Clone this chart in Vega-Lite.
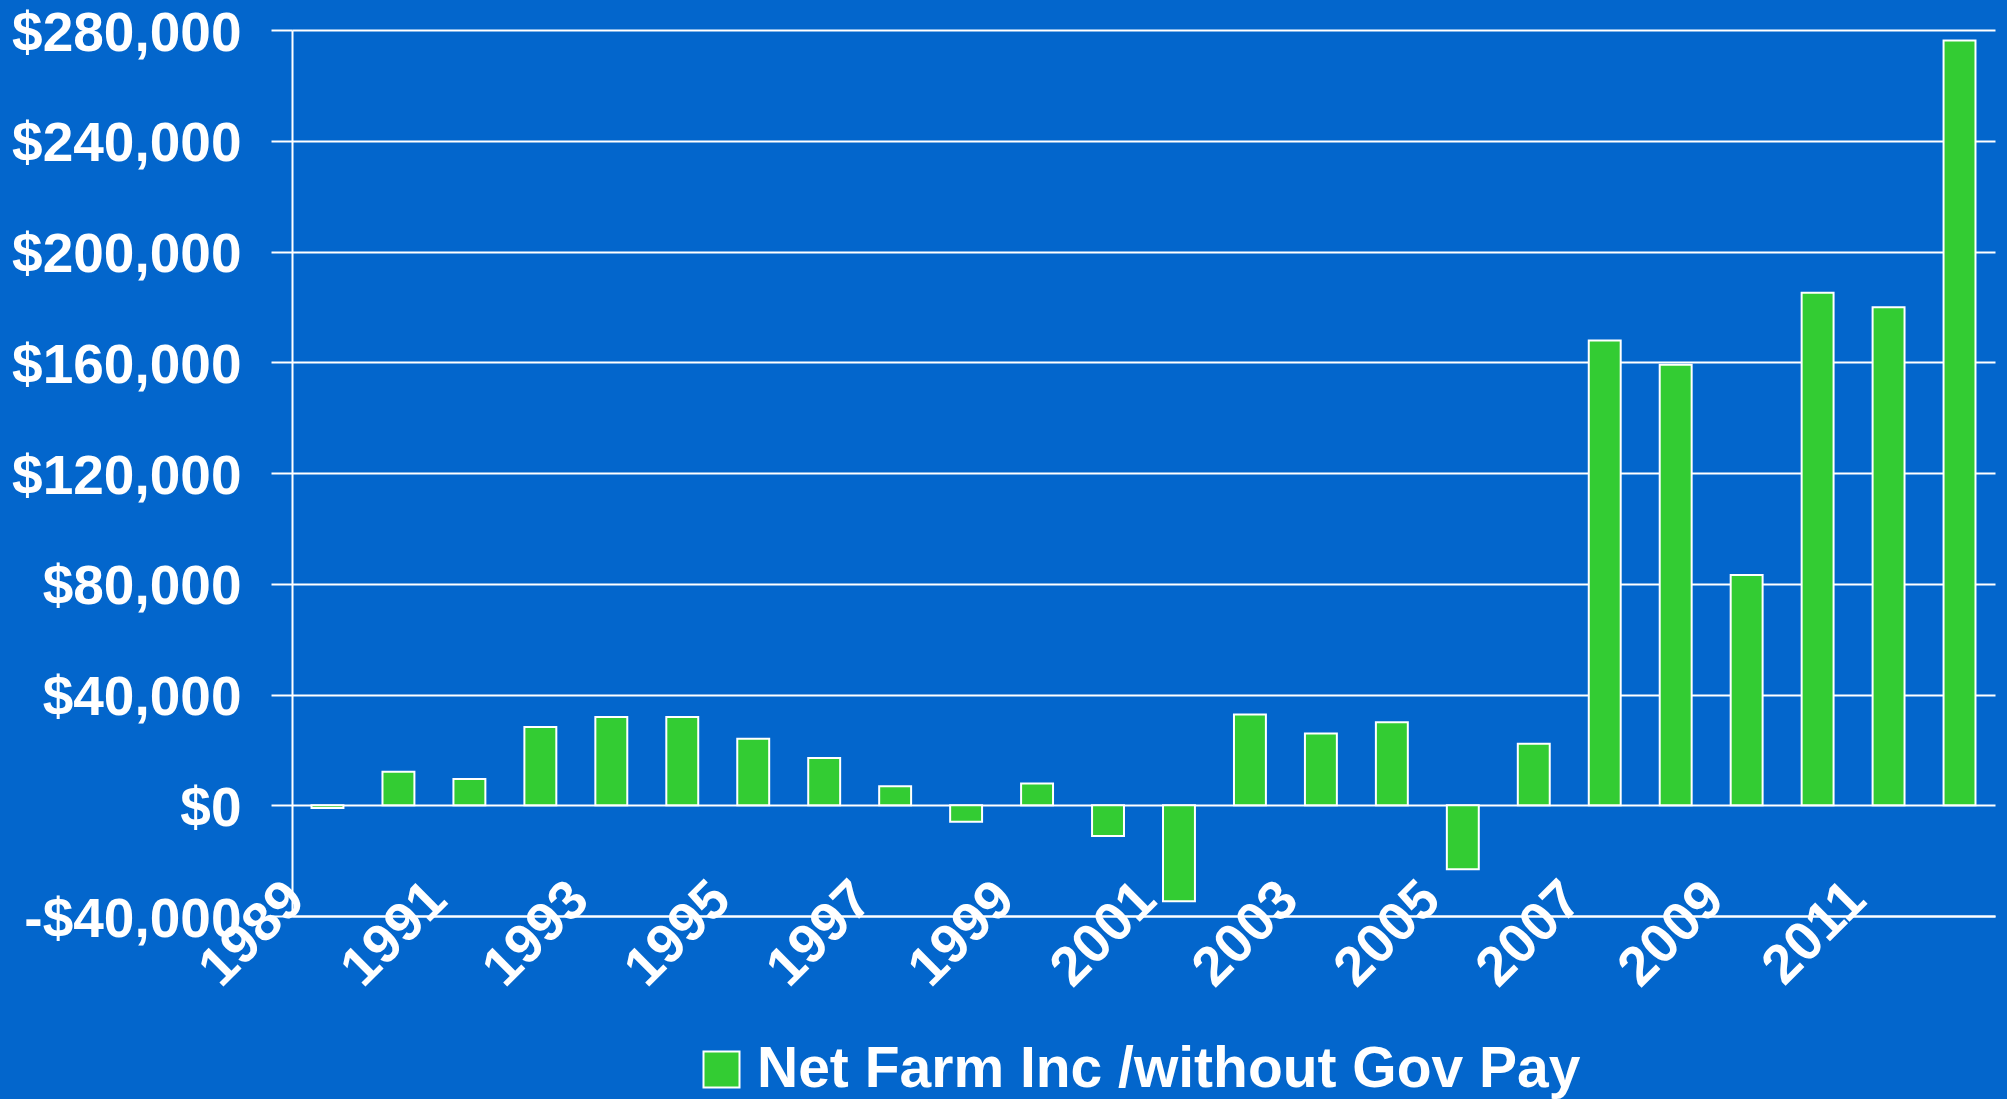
{
  "$schema": "https://vega.github.io/schema/vega-lite/v6.json",
  "autosize": "none",
  "width": 1703,
  "height": 886,
  "padding": {"left": 292, "top": 30, "right": 12, "bottom": 183},
  "background": "#0366cc",
  "config": {
    "view": {"stroke": null},
    "font": "Liberation Sans",
    "axis": {"labelFont": "Liberation Sans", "labelFontWeight": "bold", "labelColor": "white"}
  },
  "data": {
    "values": [
      {"year": "1989", "income": -1000},
      {"year": "1990", "income": 12100},
      {"year": "1991", "income": 9500},
      {"year": "1992", "income": 28300},
      {"year": "1993", "income": 31900},
      {"year": "1994", "income": 31900},
      {"year": "1995", "income": 24000},
      {"year": "1996", "income": 17100},
      {"year": "1997", "income": 6900},
      {"year": "1998", "income": -6000},
      {"year": "1999", "income": 7900},
      {"year": "2000", "income": -11100},
      {"year": "2001", "income": -34700},
      {"year": "2002", "income": 32800},
      {"year": "2003", "income": 25900},
      {"year": "2004", "income": 30000},
      {"year": "2005", "income": -23100},
      {"year": "2006", "income": 22200},
      {"year": "2007", "income": 167900},
      {"year": "2008", "income": 159100},
      {"year": "2009", "income": 83200},
      {"year": "2010", "income": 185100},
      {"year": "2011", "income": 179900},
      {"year": "2012", "income": 276200}
    ]
  },
  "mark": {"type": "bar", "stroke": "white", "strokeWidth": 2},
  "encoding": {
    "x": {
      "field": "year",
      "type": "ordinal",
      "scale": {"paddingInner": 0.55, "paddingOuter": 0.275},
      "axis": {
        "title": null,
        "values": ["1989", "1991", "1993", "1995", "1997", "1999", "2001", "2003", "2005", "2007", "2009", "2011"],
        "labelAngle": -45,
        "labelAlign": "right",
        "labelBaseline": "middle",
        "labelFontSize": 55,
        "labelOffset": -32,
        "labelPadding": -26,
        "labelLimit": 1000,
        "ticks": false,
        "tickSize": 0,
        "domain": true,
        "domainColor": "white",
        "domainWidth": 2,
        "grid": false,
        "labelOverlap": false,
        "labelBound": false,
        "labelFlush": false
      }
    },
    "y": {
      "field": "income",
      "type": "quantitative",
      "scale": {"domain": [-40000, 280000], "nice": false, "zero": false},
      "axis": {
        "title": null,
        "values": [-40000, 0, 40000, 80000, 120000, 160000, 200000, 240000, 280000],
        "labelExpr": "datum.value < 0 ? '-$' + format(-datum.value, ',') : '$' + format(datum.value, ',')",
        "labelFontSize": 55,
        "labelPadding": 30,
        "labelOffset": 3,
        "labelLimit": 1000,
        "tickSize": 21,
        "tickColor": "white",
        "tickWidth": 2,
        "grid": true,
        "gridColor": "white",
        "gridWidth": 2,
        "gridOpacity": 1,
        "domain": true,
        "domainColor": "white",
        "domainWidth": 2,
        "labelOverlap": false,
        "labelBound": false,
        "labelFlush": false
      }
    },
    "color": {
      "datum": "Net Farm Inc /without Gov Pay",
      "type": "nominal",
      "scale": {"range": ["#33cc33"]},
      "legend": {
        "title": null,
        "orient": "none",
        "legendX": 401,
        "legendY": 1011,
        "padding": 0,
        "symbolType": "square",
        "symbolSize": 1296,
        "symbolStrokeColor": "white",
        "symbolStrokeWidth": 2,
        "symbolOpacity": 1,
        "labelFont": "Liberation Sans",
        "labelFontWeight": "bold",
        "labelFontSize": 57,
        "labelColor": "white",
        "labelOffset": 7,
        "labelLimit": 2000
      }
    }
  }
}
